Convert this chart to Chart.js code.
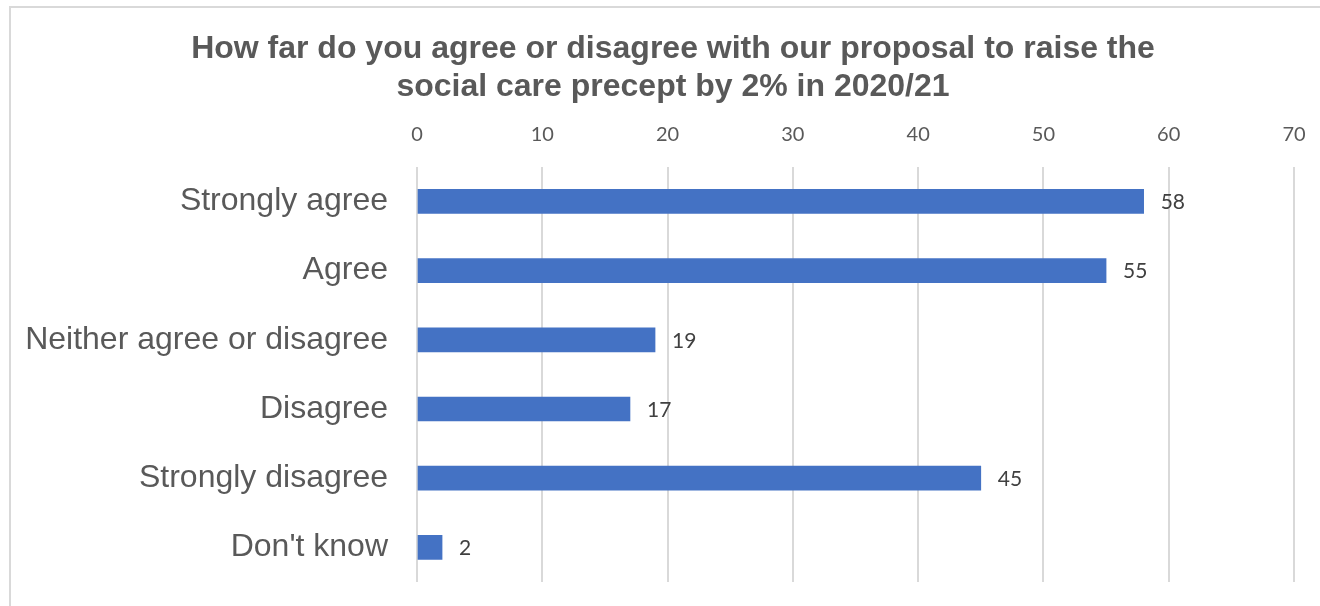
<!DOCTYPE html>
<html>
<head>
<meta charset="utf-8">
<script src="https://cdn.jsdelivr.net/npm/chart.js@4.4.1/dist/chart.umd.min.js"></script>
<style>
  html, body { margin: 0; padding: 0; background: #fff; overflow: hidden; }
  #wrap { position: relative; width: 1320px; height: 606px; }
  #frame { position: absolute; left: 9px; top: 6px; width: 1400px; height: 700px;
           border-top: 2px solid #d9d9d9; border-left: 2px solid #d9d9d9; }
  #chart { position: absolute; left: 0; top: 0; }
</style>
</head>
<body>
<div id="wrap">
  <div id="frame"></div>
  <canvas id="chart" width="1320" height="606"></canvas>
</div>
<script>
const categories = ['Strongly agree', 'Agree', 'Neither agree or disagree', 'Disagree', 'Strongly disagree', "Don't know"];
const responses = [58, 55, 19, 17, 45, 2];
const titleLines = ['How far do you agree or disagree with our proposal to raise the', 'social care precept by 2% in 2020/21'];
const xMin = 0;
const xMax = 70;
const xStep = 10;

// value labels to the right of each bar
const valueLabels = {
    id: 'valueLabels',
    afterDatasetsDraw(chart) {
        const ctx = chart.ctx;
        const meta = chart.getDatasetMeta(0);
        ctx.save();
        ctx.font = '21px Lato, "Open Sans", sans-serif';
        ctx.fillStyle = '#404040';
        ctx.textAlign = 'left';
        ctx.textBaseline = 'middle';
        meta.data.forEach((bar, i) => {
            ctx.fillText(chart.data.datasets[0].data[i], bar.x + 17, bar.y + 1);
        });
        ctx.restore();
    }
};

// left padding is only there to centre the title; let the y labels use it
const widenYLabels = {
    id: 'widenYLabels',
    afterLayout(chart) {
        chart.scales.y.left = 0;
    }
};

const ctx = document.getElementById('chart').getContext('2d');
const chart = new Chart(ctx, {
    type: 'bar',
    data: {
        labels: categories,
        datasets: [{
            data: responses,
            backgroundColor: '#4472C4',
            barThickness: 24
        }]
    },
    options: {
        indexAxis: 'y',
        responsive: false,
        animation: false,
        devicePixelRatio: 1,
        layout: { padding: { left: 52, right: 26, top: 30, bottom: 24 } },
        plugins: {
            legend: { display: false },
            tooltip: { enabled: false },
            title: {
                display: true,
                text: titleLines,
                color: '#595959',
                font: { family: '"Liberation Sans", Arial, sans-serif', size: 32, weight: 'bold', lineHeight: 1.2 },
                padding: { top: 0, bottom: 0 }
            }
        },
        scales: {
            x: {
                position: 'top',
                min: xMin,
                max: xMax,
                border: { display: false },
                grid: { color: '#d9d9d9', lineWidth: 2, drawTicks: false },
                ticks: {
                    stepSize: xStep,
                    color: '#595959',
                    padding: 20,
                    font: { family: 'Lato, "Open Sans", sans-serif', size: 20 }
                },
                afterFit(scale) {
                    scale.height = 60;
                    scale.paddingLeft = 0;
                    scale.paddingRight = 0;
                }
            },
            y: {
                border: { display: false },
                grid: { display: false, drawTicks: false },
                ticks: {
                    color: '#595959',
                    padding: 29,
                    font: { family: '"Liberation Sans", Arial, sans-serif', size: 32 }
                },
                afterFit(scale) {
                    scale.width = 365;
                    scale.paddingTop = 0;
                    scale.paddingBottom = 0;
                }
            }
        }
    },
    plugins: [valueLabels, widenYLabels]
});
</script>
</body>
</html>
